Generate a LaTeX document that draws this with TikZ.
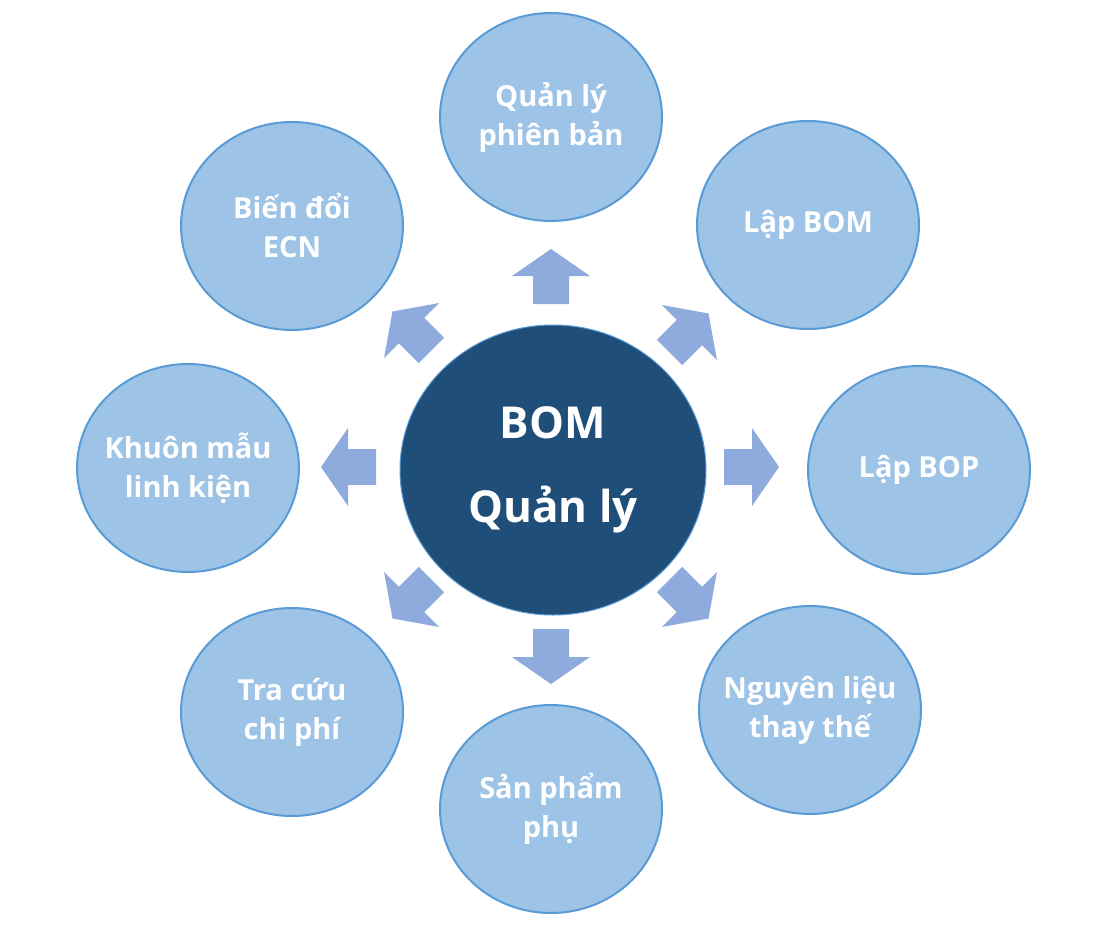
\documentclass[tikz,border=0pt]{standalone}
\usepackage{fontspec}
\setmainfont{Open Sans}
\usetikzlibrary{shapes.geometric}
\definecolor{outerfill}{HTML}{9DC3E6}
\definecolor{outerline}{HTML}{5B9BD5}
\definecolor{centerfill}{HTML}{1F4E79}
\definecolor{arrowfill}{HTML}{8FAADC}
\newcommand{\blockarr}[3]{%
  \fill[arrowfill,shift={(#1,#2)},rotate=#3] (-26,-18) -- (2,-18) -- (2,-39) -- (29,0) -- (2,39) -- (2,18) -- (-26,18) -- cycle;}
\begin{document}
\begin{tikzpicture}[x=1pt,y=1pt,
  outer/.style={ellipse,draw=outerline,line width=2pt,fill=outerfill,minimum width=222pt,minimum height=208pt,text=white,font=\bfseries\fontsize{29}{39}\selectfont,align=center,inner xsep=-30pt,inner ysep=0pt}]
\useasboundingbox (0,0) rectangle (1112,-927);
\node[ellipse,fill=centerfill,draw=outerline,line width=1pt,minimum width=306pt,minimum height=290pt,text=white,align=center,font=\bfseries\fontsize{44}{84}\selectfont] (c) at (553,-470) {BOM\\Quản lý};
\node[outer] (n1) at (551,-117) {Quản lý\\phiên bản};
\node[outer] (n2) at (808,-225) {Lập BOM};
\node[outer] (n3) at (919,-470) {Lập BOP};
\node[outer] (n4) at (810,-710) {Nguyên liệu\\thay thế};
\node[outer] (n5) at (551,-809) {Sản phẩm\\phụ};
\node[outer] (n6) at (292,-712) {Tra cứu\\chi phí};
\node[outer] (n7) at (188,-468) {Khuôn mẫu\\linh kiện};
\node[outer] (n8) at (292,-226) {Biến đổi\\ECN};
\blockarr{551}{-278}{90}
\blockarr{688}{-334}{45}
\blockarr{750}{-467}{0}
\blockarr{688}{-598}{-45}
\blockarr{551}{-655}{-90}
\blockarr{413}{-598}{-135}
\blockarr{350}{-467}{180}
\blockarr{413}{-332}{135}
\end{tikzpicture}
\end{document}
